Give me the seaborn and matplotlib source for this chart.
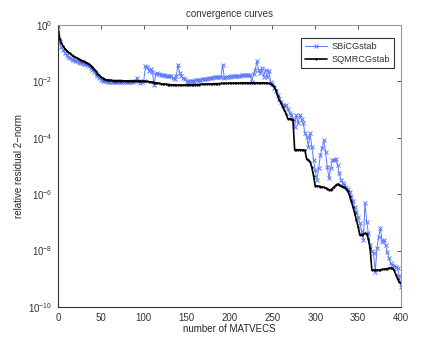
import numpy as np
import pandas as pd
import matplotlib
matplotlib.use("Agg")
import matplotlib.pyplot as plt
import seaborn as sns
from matplotlib.ticker import NullLocator, FuncFormatter

# MATVEC counts (every 2nd value)
matvecs = list(range(0, 401, 2))
ytick_vals = [1e-10, 1e-8, 1e-6, 1e-4, 1e-2, 1e0]

# log10 of the relative residual, SBiCGstab
sbicg_log = [
    -0.05, -0.60, -0.78, -0.90, -0.99, -1.06, -1.12, -1.16, -1.20, -1.23,   # 0-18
    -1.26, -1.29, -1.31, -1.33, -1.35, -1.37, -1.40, -1.43, -1.47, -1.52,   # 20-38
    -1.58, -1.65, -1.73, -1.81, -1.88, -1.94, -1.97, -1.99, -2.00, -2.01,   # 40-58
    -2.01, -2.01, -2.01, -2.01, -2.01, -2.01, -2.01, -2.01, -2.01, -2.01,   # 60-78
    -2.01, -2.01, -2.01, -2.00, -2.03, -1.98, -1.88, -2.00, -2.07, -2.01,   # 80-98
    -1.98, -1.46, -1.50, -1.62, -1.56, -1.65, -2.13, -1.72, -1.70, -1.74,   # 100-118
    -1.76, -1.77, -1.78, -1.80, -1.80, -1.82, -1.80, -1.88, -1.90, -1.80,   # 120-138
    -1.42, -1.71, -1.82, -1.89, -1.92, -1.97, -2.01, -2.00, -1.98, -1.97,   # 140-158
    -1.96, -1.95, -1.95, -1.94, -1.93, -1.92, -1.91, -1.90, -1.89, -1.88,   # 160-178
    -1.87, -1.86, -1.85, -1.84, -1.84, -1.83, -1.42, -1.89, -1.84, -1.83,   # 180-198
    -1.83, -1.82, -1.82, -1.81, -1.81, -1.80, -1.80, -1.79, -1.79, -1.78,   # 200-218
    -1.78, -1.77, -1.77, -2.01, -1.75, -1.60, -1.27, -1.60, -1.71, -1.54,   # 220-238
    -1.83, -1.60, -1.85, -1.62, -2.01, -2.10, -2.25, -2.35, -2.48, -2.62,   # 240-258
    -2.72, -2.84, -2.86, -2.84, -2.98, -3.13, -3.19, -3.35, -3.60, -3.19,   # 260-278
    -3.49, -3.19, -3.35, -3.49, -3.84, -3.96, -4.31, -3.84, -4.31, -4.79,   # 280-298
    -5.14, -5.50, -5.08, -4.61, -4.37, -4.08, -4.49, -5.02, -5.44, -5.08,   # 300-318
    -4.79, -4.79, -4.74, -4.96, -5.26, -5.50, -5.60, -5.67, -5.75, -5.82,   # 320-338
    -5.92, -6.09, -6.25, -6.45, -6.62, -6.82, -7.03, -7.30, -7.62, -6.32,   # 340-358
    -6.97, -7.39, -7.80, -8.00, -8.10, -8.75, -7.92, -7.50, -7.21, -7.68,   # 360-378
    -7.62, -7.80, -8.05, -8.27, -8.45, -8.51, -8.55, -8.58, -8.63, -8.90,   # 380-398
    -9.28,                                                                  # 400
]

# log10 of the relative residual, SQMRCGstab
sqmr_log = [
    -0.05, -0.48, -0.64, -0.75, -0.84, -0.91, -0.97, -1.01, -1.06, -1.10,   # 0-18
    -1.14, -1.17, -1.20, -1.23, -1.26, -1.29, -1.32, -1.35, -1.39, -1.44,   # 20-38
    -1.50, -1.57, -1.64, -1.72, -1.79, -1.85, -1.89, -1.92, -1.94, -1.95,   # 40-58
    -1.96, -1.96, -1.97, -1.97, -1.97, -1.97, -1.97, -1.97, -1.98, -1.98,   # 60-78
    -1.98, -1.98, -1.98, -1.98, -1.98, -1.99, -1.99, -1.99, -1.99, -1.99,   # 80-98
    -1.99, -2.00, -2.00, -2.01, -2.02, -2.03, -2.04, -2.05, -2.06, -2.07,   # 100-118
    -2.08, -2.09, -2.10, -2.10, -2.11, -2.11, -2.12, -2.12, -2.12, -2.13,   # 120-138
    -2.13, -2.13, -2.13, -2.13, -2.13, -2.12, -2.12, -2.12, -2.12, -2.11,   # 140-158
    -2.11, -2.11, -2.11, -2.10, -2.10, -2.10, -2.10, -2.09, -2.09, -2.09,   # 160-178
    -2.09, -2.08, -2.08, -2.08, -2.08, -2.07, -2.07, -2.07, -2.07, -2.07,   # 180-198
    -2.06, -2.06, -2.06, -2.06, -2.06, -2.06, -2.06, -2.05, -2.05, -2.05,   # 200-218
    -2.05, -2.05, -2.05, -2.05, -2.05, -2.05, -2.05, -2.05, -2.05, -2.05,   # 220-238
    -2.05, -2.06, -2.06, -2.07, -2.08, -2.12, -2.18, -2.30, -2.50, -2.65,   # 240-258
    -2.77, -2.90, -3.02, -3.15, -3.32, -3.33, -3.34, -3.36, -4.43, -4.42,   # 260-278
    -4.43, -4.42, -4.44, -4.43, -4.45, -4.76, -4.78, -4.85, -5.05, -5.35,   # 280-298
    -5.71, -5.71, -5.72, -5.73, -5.74, -5.76, -5.78, -5.80, -5.84, -5.85,   # 300-318
    -5.80, -5.74, -5.68, -5.64, -5.66, -5.70, -5.73, -5.76, -5.80, -5.90,   # 320-338
    -6.05, -6.25, -6.45, -6.68, -6.90, -7.15, -7.45, -7.43, -7.41, -7.39,   # 340-358
    -7.40, -7.60, -7.92, -8.69, -8.69, -8.69, -8.69, -8.69, -8.68, -8.67,   # 360-378
    -8.66, -8.65, -8.64, -8.62, -8.62, -8.63, -8.70, -8.85, -9.00, -9.12,   # 380-398
    -9.15,                                                                  # 400
]

df = pd.DataFrame({
    "matvecs": matvecs * 2,
    "resid": [10.0 ** v for v in sbicg_log] + [10.0 ** v for v in sqmr_log],
    "method": ["SBiCGstab"] * len(matvecs) + ["SQMRCGstab"] * len(matvecs),
})

sns.set_style("white")
plt.rcParams["font.family"] = ["Liberation Sans", "DejaVu Sans"]
plt.rcParams["mathtext.fontset"] = "custom"
plt.rcParams["mathtext.rm"] = "Liberation Sans"
plt.rcParams["mathtext.it"] = "Liberation Sans"
plt.rcParams["mathtext.default"] = "regular"
plt.rcParams["font.size"] = 7
plt.rcParams["text.color"] = "#333333"

fig = plt.figure(figsize=(4.43, 3.46), dpi=100)
ax = fig.add_axes([58 / 443, 1 - 307 / 346, 343 / 443, 282 / 346])

blue = "#5a78ff"
sns.lineplot(data=df[df.method == "SBiCGstab"], x="matvecs", y="resid", ax=ax,
             color=blue, linewidth=0.7, marker="x", markersize=3.2,
             markeredgewidth=0.7, markeredgecolor=blue, label="SBiCGstab")
sns.lineplot(data=df[df.method == "SQMRCGstab"], x="matvecs", y="resid", ax=ax,
             color="black", linewidth=1.2, marker="o", markersize=1.6,
             markeredgewidth=0, markeredgecolor="black", label="SQMRCGstab")

ax.set_yscale("log")
ax.set_xlim(0, 400)
ax.set_ylim(1e-10, 1e0)
ax.set_xticks([0, 50, 100, 150, 200, 250, 300, 350, 400])
ax.set_yticks(ytick_vals)
ax.yaxis.set_minor_locator(NullLocator())
ax.yaxis.set_major_formatter(FuncFormatter(lambda v, p: r"$10^{%d}$" % round(np.log10(v))))

ax.tick_params(direction="in", length=3, width=0.6, colors="#333333",
               top=True, right=True, labelsize=7, pad=4)
for side in ["left", "bottom"]:
    ax.spines[side].set_color("#333333")
    ax.spines[side].set_linewidth(0.8)
for side in ["top", "right"]:
    ax.spines[side].set_color("#999999")
    ax.spines[side].set_linewidth(0.8)

ax.set_title("convergence curves", fontsize=7, pad=6)
ax.set_xlabel("number of MATVECS", fontsize=7, labelpad=1)
ax.set_ylabel("relative residual 2\u2212norm", fontsize=7, labelpad=3)

leg = ax.legend(loc="upper right", bbox_to_anchor=(0.98, 0.955), fontsize=6.6,
                frameon=True, fancybox=False, handlelength=2.4, handletextpad=0.5,
                borderpad=0.45, labelspacing=0.45, borderaxespad=0)
leg.get_frame().set_edgecolor("black")
leg.get_frame().set_linewidth(0.8)

fig.savefig("out.png", dpi=100)
